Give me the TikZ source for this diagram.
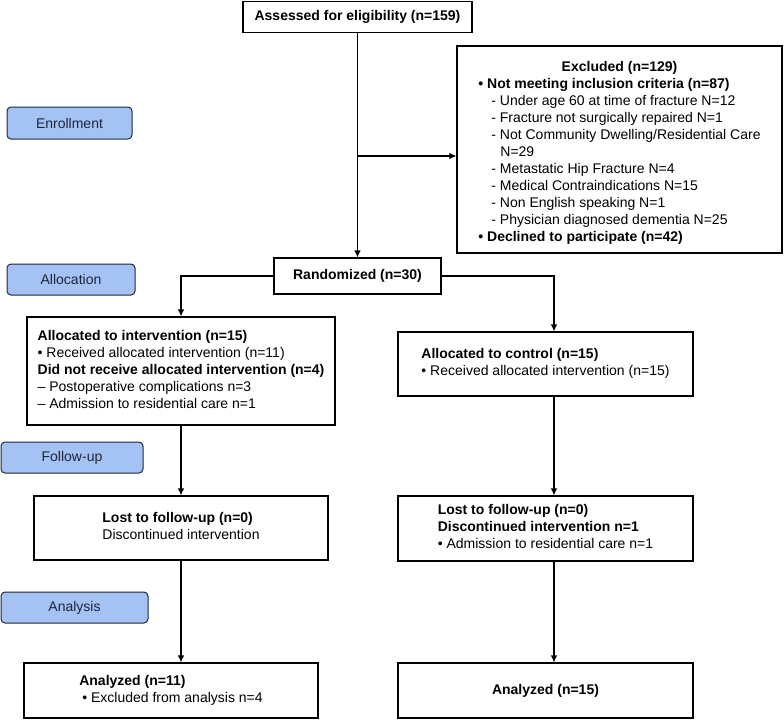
\documentclass[tikz,border=0pt]{standalone}
\usepackage{fontspec}
\setmainfont{Liberation Sans}
\usetikzlibrary{arrows.meta,calc}
\definecolor{stagefill}{HTML}{A4C2F4}
\definecolor{stagedraw}{HTML}{1E2638}
\newcommand{\tb}[1]{\begin{tabular}{@{}l@{}}#1\end{tabular}}
\begin{document}
\begin{tikzpicture}[x=1pt,y=-1pt,
  every node/.style={font=\fontsize{14}{17}\selectfont},
  box/.style={draw=black,line width=1.1pt,rectangle,inner sep=0pt,fill=white},
  stage/.style={draw=stagedraw,line width=1pt,rectangle,rounded corners=4pt,fill=stagefill,inner sep=0pt,text=stagedraw},
  arr/.style={line width=1.1pt,-{Latex[length=7pt,width=6.5pt]}},
  ln/.style={line width=1.1pt}]
\useasboundingbox (0,0) rectangle (784,720);
\renewcommand{\arraystretch}{1}
% stage labels
\node[stage,minimum width=125pt,minimum height=32pt] (enroll) at (69.5,123) {Enrollment};
\node[stage,minimum width=128pt,minimum height=31pt] (alloc) at (71,279.5) {Allocation};
\node[stage,minimum width=142pt,minimum height=31pt] (follow) at (72,457.5) {Follow-up};
\node[stage,minimum width=147pt,minimum height=31pt] (analysis) at (74.5,607.5) {Analysis};
% boxes
\node[box,minimum width=229pt,minimum height=31pt] (assess) at (357.5,17) {\textbf{Assessed for eligibility (n=159)}};
\node[box,minimum width=325pt,minimum height=207pt] (excl) at (619.5,149.5) {\tb{%
\multicolumn{1}{@{}c@{}}{\rule{0pt}{19.9pt}\textbf{Excluded (n=129)}}\\
\textbf{• Not meeting inclusion criteria (n=87)}\\
\hspace*{13pt}- Under age 60 at time of fracture N=12\\
\hspace*{13pt}- Fracture not surgically repaired N=1\\
\hspace*{13pt}- Not Community Dwelling/Residential Care\\
\hspace*{22pt}N=29\\
\hspace*{13pt}- Metastatic Hip Fracture N=4\\
\hspace*{13pt}- Medical Contraindications N=15\\
\hspace*{13pt}- Non English speaking N=1\\
\hspace*{13pt}- Physician diagnosed dementia N=25\\
\textbf{• Declined to participate (n=42)}}};
\node[box,minimum width=167pt,minimum height=36pt] (rand) at (357.5,276) {\textbf{Randomized (n=30)}};
\node[box,minimum width=308pt,minimum height=108pt] (allocL) at (181,371) {\tb{%
\textbf{Allocated to intervention (n=15)}\\
• Received allocated intervention (n=11)\\
\textbf{Did not receive allocated intervention (n=4)}\\
– Postoperative complications n=3\\
– Admission to residential care n=1}};
\node[box,minimum width=295pt,minimum height=64pt] (allocR) at (545.5,364) {\tb{%
\textbf{Allocated to control (n=15)}\\
• Received allocated intervention (n=15)}};
\node[box,minimum width=294pt,minimum height=64pt] (fuL) at (181,528) {\tb{%
\textbf{Lost to follow-up (n=0)}\\
Discontinued intervention}};
\node[box,minimum width=295pt,minimum height=65pt] (fuR) at (545.5,528.5) {\tb{%
\textbf{Lost to follow-up (n=0)}\\
\textbf{Discontinued intervention n=1}\\
• Admission to residential care n=1}};
\node[box,minimum width=294pt,minimum height=55pt] (anL) at (171,690.5) {\tb{%
\textbf{Analyzed (n=11)}\\
\hspace*{3pt}• Excluded from analysis n=4}};
\node[box,minimum width=295pt,minimum height=55pt] (anR) at (545.5,690.5) {\textbf{Analyzed (n=15)}};
% junctions
\coordinate (je) at (357.5,156);
\coordinate (jl) at (181,276);
\coordinate (jr) at (554,276);
% connectors
\draw[arr] (assess.south) -- (rand.north);
\draw[arr] (je) -- (je -| excl.west);
\draw[arr] (rand.west) -- (jl) -- (jl |- allocL.north);
\draw[arr] (rand.east) -- (jr) -- (jr |- allocR.north);
\draw[arr] (allocL.south) -- (fuL.north);
\draw[arr] (jr |- allocR.south) -- (jr |- fuR.north);
\draw[arr] (fuL.south) -- (fuL.south |- anL.north);
\draw[arr] (jr |- fuR.south) -- (jr |- anR.north);
\end{tikzpicture}
\end{document}
